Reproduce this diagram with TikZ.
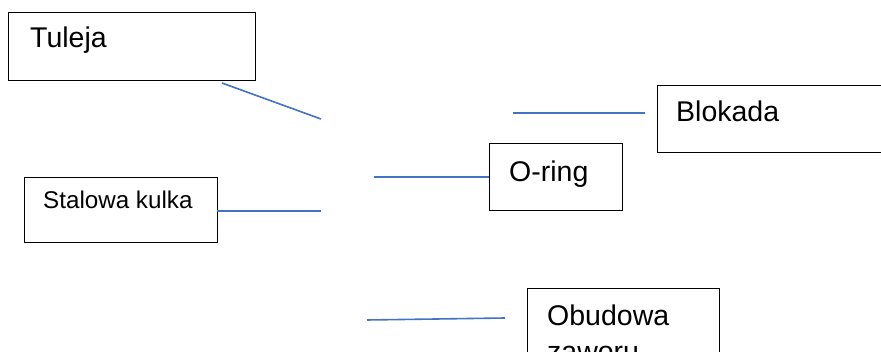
\documentclass[tikz,border=0pt]{standalone}
\usepackage{fontspec}
\setmainfont{Liberation Sans}
\definecolor{linkblue}{HTML}{4472C4}
\begin{document}
\begin{tikzpicture}[x=1pt,y=-1pt,
  box/.style={draw=black,line width=1pt,fill=white,inner sep=0pt,anchor=north west},
  lbl/.style={anchor=base west,inner sep=0pt,font=\fontsize{28.5}{32}\selectfont},
  small/.style={anchor=base west,inner sep=0pt,font=\fontsize{24.2}{26}\selectfont},
  conn/.style={draw=linkblue,line width=1.6pt}]
\useasboundingbox (0,0) rectangle (881,352);
\clip (0,0) rectangle (881,352);
\fill[white] (0,0) rectangle (881,352);
% boxes
\node[box,minimum width=247pt,minimum height=68pt] (tuleja) at (8,12) {};
\node[box,minimum width=193pt,minimum height=65pt] (kulka) at (24,177) {};
\node[box,minimum width=133pt,minimum height=67pt] (oring) at (489,143) {};
\node[box,minimum width=250pt,minimum height=67pt] (blokada) at (657,85) {};
\node[box,minimum width=192pt,minimum height=90pt] (obudowa) at (527,288) {};
% texts
\node[lbl] (tTuleja) at (30,48) {Tuleja};
\node[small] (tKulka) at (43,209) {Stalowa kulka};
\node[lbl] (tOring) at (509,182) {O-ring};
\node[lbl] (tBlokada) at (676,122) {Blokada};
\node[lbl] (tObudowa) at (547,326) {Obudowa};
\node[lbl] (tZaworu) at (547,362) {zaworu};
% connector ends
\coordinate (a1) at (222,83);  \coordinate (a2) at (321,119);
\coordinate (b1) at (217,211); \coordinate (b2) at (321,211);
\coordinate (c1) at (374,177); \coordinate (c2) at (489,177);
\coordinate (d1) at (513,113); \coordinate (d2) at (645,113);
\coordinate (e1) at (367,320); \coordinate (e2) at (505,318);
\draw[conn] (a1) -- (a2);
\draw[conn] (b1) -- (b2);
\draw[conn] (c1) -- (c2);
\draw[conn] (d1) -- (d2);
\draw[conn] (e1) -- (e2);
\end{tikzpicture}
\end{document}
